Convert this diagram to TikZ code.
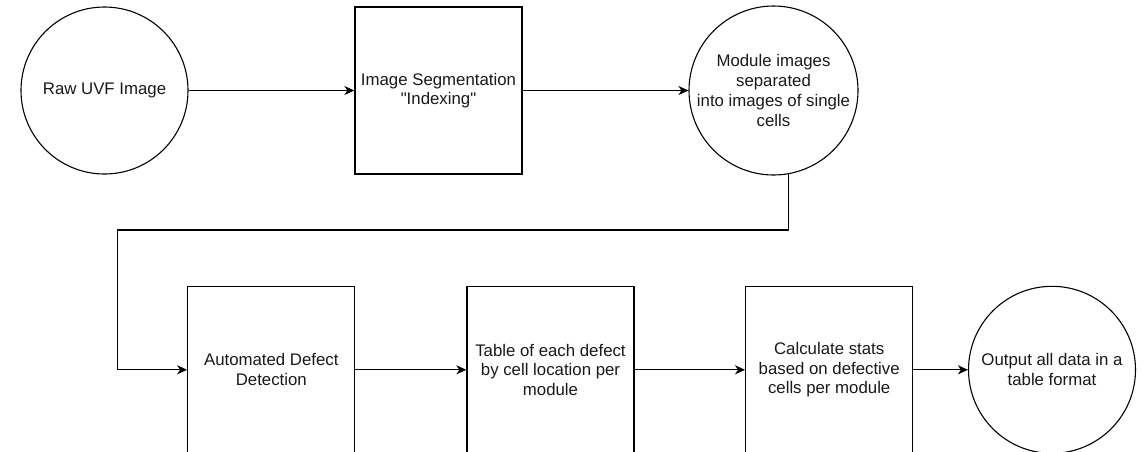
\documentclass[tikz,border=0pt]{standalone}
\usepackage{fontspec}
\setmainfont{Liberation Sans}[Ligatures=TeXOff]
\usetikzlibrary{arrows.meta}
\begin{document}
\begin{tikzpicture}[x=1pt,y=-1pt,
 every node/.style={font=\fontsize{16.8}{19.7}\selectfont, text=black!90, align=center, inner sep=0pt},
 procbox/.style={draw, line width=1.3pt, minimum width=167pt, minimum height=167pt},
 termcirc/.style={draw, circle, line width=1.1pt, minimum size=167pt},
 flow/.style={draw, line width=1.3pt, -{Stealth[length=10pt,width=9pt,inset=3pt]}}]
\useasboundingbox (0,0) rectangle (1143,451);
\clip (0,0) rectangle (1143,451);
\node[termcirc] (raw) at (104.5,90.5) {Raw UVF Image};
\node[procbox] (seg) at (438.5,90.5) {Image Segmentation\\"Indexing"};
\node[termcirc] (mod) at (773.5,90.5) {Module images\\separated\\into images of single\\cells};
\node[procbox] (add) at (271.3,369.8) {Automated Defect\\Detection};
\node[procbox] (tab) at (550.5,369.8) {Table of each defect\\by cell location per\\module};
\node[procbox] (calc) at (829.2,369.8) {Calculate stats\\based on defective\\cells per module};
\node[termcirc] (out) at (1052,369.8) {Output all data in a\\table format};
\coordinate (turn) at (117.3,230);
\draw[flow] (raw) -- (seg);
\draw[flow] (seg) -- (mod);
\draw[flow] (mod.-80.7) |- (turn) |- (add.west);
\draw[flow] (add) -- (tab);
\draw[flow] (tab) -- (calc);
\draw[flow] (calc) -- (out);
\end{tikzpicture}
\end{document}
